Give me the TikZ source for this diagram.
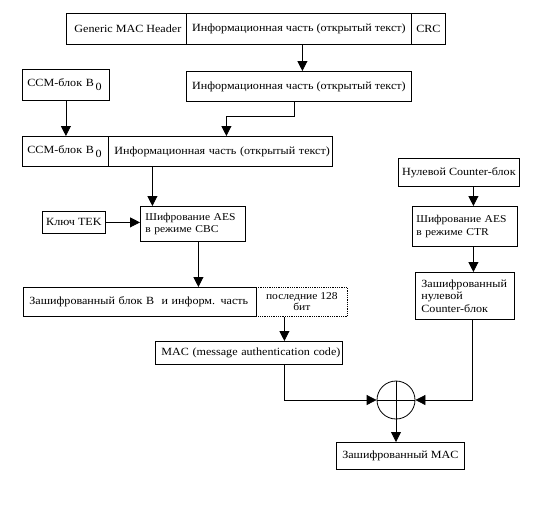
\documentclass[tikz,border=0pt]{standalone}
\usepackage{fontspec}
\setmainfont[FakeStretch=1.1]{Liberation Serif}
\usetikzlibrary{arrows.meta}
\begin{document}
\begin{tikzpicture}[x=1pt,y=-1pt,
  font=\fontsize{11}{12.5}\selectfont,
  box/.style={draw, line width=0.8pt, inner sep=0pt, anchor=north west},
  lbox/.style={box, align=left, inner xsep=5pt},
  arr/.style={line width=0.8pt, -{Triangle[length=10pt,width=10pt]}},
  ln/.style={line width=0.8pt}]
\useasboundingbox (0,0) rectangle (538,512);
% top row
\node[box, minimum width=120, minimum height=31] (hdr) at (66,13) {\hspace*{3pt}Generic MAC Header};
\node[box, minimum width=225, minimum height=31] (info1) at (186,13) {Информационная часть (открытый текст)};
\node[box, minimum width=34, minimum height=31] (crc) at (411,13) {CRC};
\node[box, minimum width=225, minimum height=30] (info2) at (186,71) {Информационная часть (открытый текст)};
\node[lbox, text width=77, minimum height=31] (ccm1) at (22,69) {\mbox{CCM-блок B\raisebox{-4pt}{\,0}}};
\node[lbox, text width=76, minimum height=30] (ccm2) at (22,136) {\mbox{CCM-блок B\raisebox{-4pt}{\,0}}};
\node[lbox, inner xsep=6pt, text width=212, minimum height=30] (info3) at (108,136) {\mbox{Информационная часть (открытый текст)}};
\node[box, minimum width=63, minimum height=22] (tek) at (42,211) {Ключ TEK};
\node[lbox, inner xsep=5pt, text width=95, minimum height=35, font=\fontsize{10.5}{12.5}\selectfont] (cbc) at (140,206) {\mbox{Шифрование AES}\\\mbox{в режиме CBC}};
\node[lbox, inner xsep=6pt, text width=221, minimum height=29] (encb) at (23,287) {\mbox{Зашифрованный блок В\ \ и информ. часть}};
\node[box, densely dotted, minimum width=91, minimum height=29, align=center, font=\fontsize{10.5}{11}\selectfont] (last) at (256,287) {последние 128\\бит};
\node[lbox, inner xsep=6pt, text width=175, minimum height=23] (mac) at (155,341) {\mbox{MAC (message authentication code)}};
\node[draw, line width=0.8pt, circle, minimum size=38, inner sep=0pt] (xor) at (396,400) {};
\draw[ln] (xor.north) -- (xor.south) (xor.west) -- (xor.east);
\node[box, minimum width=128, minimum height=27] (emac) at (336,442) {Зашифрованный MAC};
\node[box, minimum width=121, minimum height=28] (zero) at (398,158) {Нулевой Counter-блок};
\node[lbox, inner xsep=4pt, text width=97, minimum height=40, font=\fontsize{10.5}{12.5}\selectfont] (ctr) at (412,206) {\mbox{Шифрование AES}\\\mbox{в режиме CTR}};
\node[lbox, inner xsep=6pt, text width=87, minimum height=47] (ezero) at (415,272) {\mbox{Зашифрованный}\\нулевой\\\mbox{Counter-блок}};
% connectors
\draw[arr] ([xshift=3.5pt]info1.south) -- ([xshift=3.5pt]info2.north);
\draw[arr] (ccm1.south) -- (ccm1.south |- ccm2.north);
\draw[arr] ([xshift=-4.5pt]info2.south) -- ++(0,15) -| ([xshift=6pt]info3.north);
\draw[arr] ([xshift=-40.5pt]cbc.north |- info3.south) -- ([xshift=-40.5pt]cbc.north);
\draw[arr] (tek.east) -- (tek.east -| cbc.west);
\draw[arr] ([xshift=5.5pt]cbc.south) -- ([xshift=5.5pt]cbc.south |- encb.north);
\draw[arr] ([xshift=-17.5pt]last.south) -- ([xshift=-17.5pt]last.south |- mac.north);
\draw[arr] ([xshift=35.5pt]mac.south) |- (xor.west);
\draw[arr] ([xshift=7.5pt]ezero.south) |- (xor.east);
\draw[arr] (xor.south) -- (xor.south |- emac.north);
\draw[arr] ([xshift=8.5pt]ctr.north |- zero.south) -- ([xshift=8.5pt]ctr.north);
\draw[arr] ([xshift=8.5pt]ctr.south) -- ([xshift=8.5pt]ctr.south |- ezero.north);
\end{tikzpicture}
\end{document}
